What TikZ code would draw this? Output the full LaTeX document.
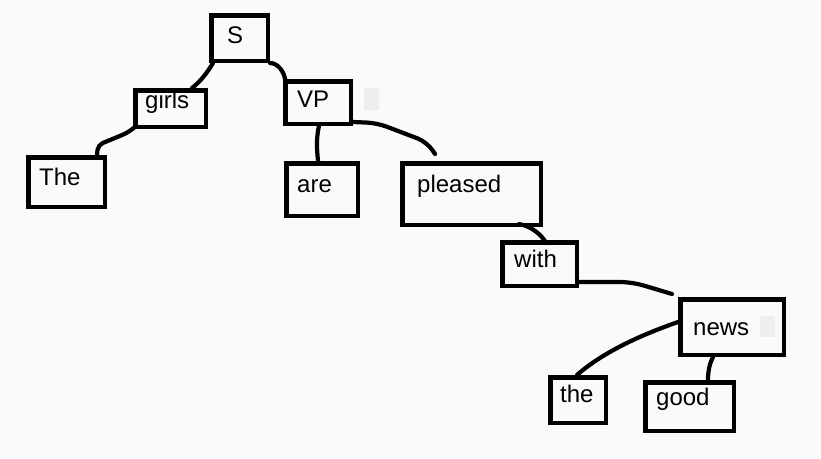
\documentclass[tikz,border=0pt]{standalone}
\usepackage{fontspec}
\setmainfont{Liberation Sans}
\usetikzlibrary{calc}
\definecolor{paper}{RGB}{250,250,250}
\definecolor{smudge}{RGB}{238,238,238}
\tikzset{
    box/.style={draw, line width=4.5pt, inner sep=0pt},
    word/.style={anchor=base west, inner sep=0pt, font=\fontsize{24}{28}\selectfont},
    link/.style={line width=4.2pt, line cap=round},
}
\begin{document}
\begin{tikzpicture}[x=1pt, y=-1pt]
    \fill[paper] (0,0) rectangle (821,458);
    \useasboundingbox (0,0) rectangle (821,458);

    % boxes
    \node[box, minimum width=56.5pt, minimum height=45.5pt] (s) at (239.5,38) {};
    \node[box, minimum width=70.5pt, minimum height=36.5pt] (girls) at (170.5,108.5) {};
    \node[box, minimum width=65.5pt, minimum height=42.5pt] (vp) at (318,102.5) {};
    \node[box, minimum width=76.5pt, minimum height=49.5pt] (the1) at (66.5,182) {};
    \node[box, minimum width=71.5pt, minimum height=52.5pt] (are) at (322,189.5) {};
    \node[box, minimum width=138.5pt, minimum height=61.5pt] (pleased) at (471.5,194) {};
    \node[box, minimum width=74.5pt, minimum height=43.5pt] (with) at (539.5,264) {};
    \node[box, minimum width=103.5pt, minimum height=55.5pt] (news) at (732,327) {};
    \node[box, minimum width=55.5pt, minimum height=45.5pt] (the2) at (578,400) {};
    \node[box, minimum width=88.5pt, minimum height=48.5pt] (good) at (689.5,406.5) {};

    % words
    \node[word] (s-w) at (227,43) {S};
    \node[word] (girls-w) at (145,108) {girls};
    \node[word] (vp-w) at (297,107) {VP};
    \node[word] (the1-w) at (39,185) {The};
    \node[word] (are-w) at (297,192) {are};
    \node[word] (pleased-w) at (417,192) {pleased};
    \node[word] (with-w) at (514,267) {with};
    \node[word] (news-w) at (693,335) {news};
    \node[word] (the2-w) at (560,402) {the};
    \node[word] (good-w) at (656,405) {good};

    % faint marks
    \fill[smudge] (364,88) rectangle (379,110);
    \fill[smudge] (760,316) rectangle (775,337);

    % branches
    \draw[link] ($(s.south west)+(4,0)$) .. controls +(-6,10) and +(8,-6) .. ($(girls.north west)+(59,0)$);
    \draw[link] (s.south east) .. controls +(8,0) and +(-1,-7) .. ($(vp.north west)+(2,0)$);
    \draw[link, rounded corners=5pt] ($(girls.south west)+(2,-2)$) -- ++(-8,6) -- ++(-29,12) -- ($(the1.north west)+(71,0)$);
    \draw[link] ($(vp.south)+(1,0)$) .. controls +(-3,12) and +(-1,-10) .. ($(are.north)+(-4,0)$);
    \draw[link, rounded corners=10pt] ($(vp.south east)+(0,-4)$) -- ++(24,1) -- ++(50,19) -- ($(pleased.north west)+(35,-7)$);
    \draw[link] ($(pleased.south west)+(119,-3)$) .. controls +(12,2) and +(-4,-8) .. ($(with.north west)+(46,3)$);
    \draw[link, rounded corners=12pt] ($(with.south east)+(0,-6)$) -- ++(53,0) -- ($(news.north west)+(-6,-3)$);
    \draw[link] ($(news.west)+(0,-5)$) .. controls +(-40,14) and +(25,-22) .. ($(the2.north)+(-1,0)$);
    \draw[link] ($(news.south)+(-19,0)$) .. controls +(-4,8) and +(0,-8) .. ($(good.north west)+(65,0)$);
\end{tikzpicture}
\end{document}
